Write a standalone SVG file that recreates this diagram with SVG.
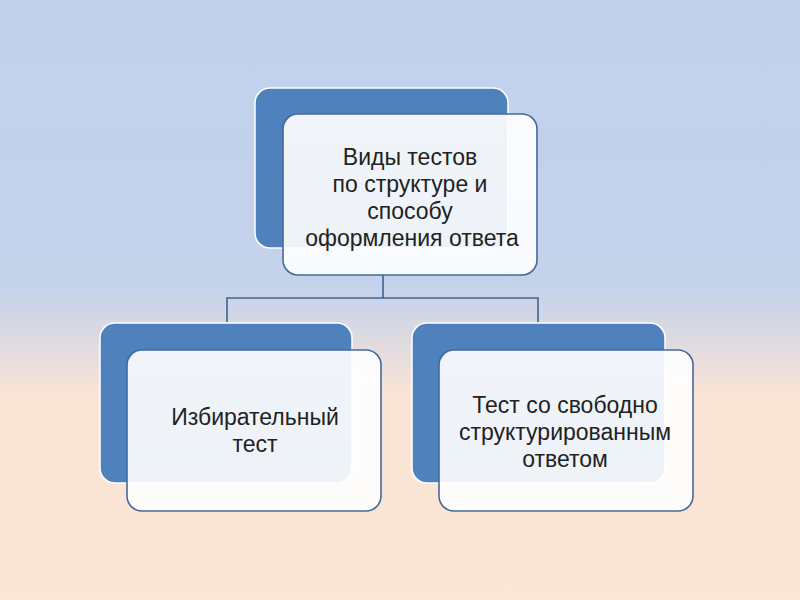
<svg xmlns="http://www.w3.org/2000/svg" width="800" height="600" viewBox="0 0 800 600">
<defs>
<linearGradient id="bg" x1="0" y1="0" x2="0" y2="1">
<stop offset="0" stop-color="#c1d1ed"/>
<stop offset="0.48" stop-color="#c4d2ea"/>
<stop offset="0.66" stop-color="#fae4d6"/>
<stop offset="1" stop-color="#fbe5d6"/>
</linearGradient>
<linearGradient id="front" x1="0" y1="0" x2="0" y2="1">
<stop offset="0" stop-color="#ffffff" stop-opacity="0.92"/>
<stop offset="1" stop-color="#ffffff" stop-opacity="0.9"/>
</linearGradient>
</defs>
<style>
.back{fill:#4f81bd;stroke:#ffffff;stroke-width:1.5}
.front{fill:url(#front);stroke:#44699c;stroke-width:1.6}
.conn{fill:none;stroke:#3f6391;stroke-width:1.6}
text{font-family:"Liberation Sans",Arial,sans-serif;font-size:23px;fill:#222222;text-anchor:middle}
</style>
<rect width="800" height="600" fill="url(#bg)"/>
<g id="connectors">
<path class="conn" d="M383 275 V298 M227 322 V298 H538 V322"/>
</g>
<g id="node-root">
<rect class="back" x="255" y="88" width="253" height="160" rx="15"/>
<rect class="front" x="283" y="114" width="254" height="161" rx="15"/>
<text x="410" y="165">Виды тестов</text>
<text x="410" y="192">по структуре и</text>
<text x="410" y="219">способу</text>
<text x="412" y="246">оформления ответа</text>
</g>
<g id="node-left">
<rect class="back" x="100" y="323" width="252" height="160" rx="15"/>
<rect class="front" x="127" y="350" width="254" height="161" rx="15"/>
<text x="255" y="425">Избирательный</text>
<text x="255" y="452">тест</text>
</g>
<g id="node-right">
<rect class="back" x="412" y="323" width="253" height="160" rx="15"/>
<rect class="front" x="439" y="350" width="254" height="161" rx="15"/>
<text x="565" y="413">Тест со свободно</text>
<text x="565" y="440">структурированным</text>
<text x="565" y="467">ответом</text>
</g>
</svg>
